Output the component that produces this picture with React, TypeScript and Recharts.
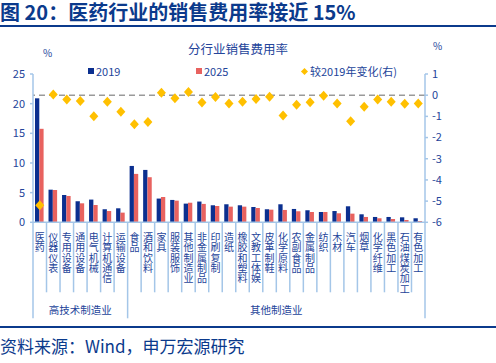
import { Bar, ComposedChart, Line, ReferenceLine, XAxis, YAxis } from 'recharts';

const categories = [
	'医药', '仪器仪表', '专用设备', '通用设备', '电气机械', '计算机通信', '运输设备',
	'食品', '酒和饮料', '家具', '服装服饰', '其他制造业', '非金属制品', '印刷复制', '造纸',
	'橡胶和塑料', '文教工体娱', '皮革制鞋', '化学原料', '农副食品', '金属制品', '纺织', '木材',
	'汽车', '烟草', '化学纤维', '黑色加工', '石油煤炭加工', '有色加工',
];
const sales2019 = [
	20.9, 5.5, 4.6, 3.55, 3.83, 2.2, 2.36, 9.5, 8.83, 4.0, 3.77, 3.15, 3.5, 2.87, 3.04,
	2.87, 2.58, 2.2, 3.04, 2.25, 2.03, 1.74, 1.9, 2.7, 1.35, 0.9, 0.9, 0.84, 0.68,
];
const sales2025 = [
	15.76, 5.45, 4.44, 3.2, 2.92, 1.9, 1.63, 8.16, 7.6, 4.27, 3.65, 3.3, 3.1, 2.75, 2.64,
	2.64, 2.41, 2.13, 2.08, 1.86, 1.74, 1.74, 1.52, 1.46, 0.9, 0.68, 0.56, 0.39, 0.22,
];
const change = [
	-5.2, 0.03, -0.2, -0.28, -0.99, -0.31, -0.78, -1.37, -1.26, 0.11, -0.15, 0.15, -0.34, -0.09, -0.39,
	-0.31, -0.18, -0.07, -0.96, -0.45, -0.33, -0.03, -0.39, -1.23, -0.55, -0.2, -0.31, -0.41, -0.39,
];
const groups = [
	{ name: '高技术制造业', count: 7 },
	{ name: '其他制造业', count: 22 },
];
const leftTicks = [0, 5, 10, 15, 20, 25];
const rightTicks = [-6, -5, -4, -3, -2, -1, 0, 1];

const data = categories.map((name, i) => ({
	name,
	v2019: sales2019[i],
	v2025: sales2025[i],
	change: change[i],
}));

const NAVY = '#0b3a8c';
const TEXT = '#24449a';
const BLUE = '#0b2f8f';
const RED = '#e8625f';
const GOLD = '#ffc000';
const AXIS = '#a4c6e8';
const FONT = '"Noto Sans CJK SC", "Noto Sans", sans-serif';

const plotLeft = 33;
const plotRight = 425;
const band = (plotRight - plotLeft) / categories.length;

const groupStarts: number[] = [];
groups.reduce((acc, g) => {
	groupStarts.push(acc);
	return acc + g.count;
}, 0);

function CategoryTick({ x, y, payload, index }: any) {
	const chars = Array.from(String(payload.value));
	const isStart = groupStarts.includes(index);
	const isLast = index === categories.length - 1;
	const left = x - band / 2;
	const labels: any[] = [];
	groups.forEach((g, gi) => {
		const center = groupStarts[gi] + g.count / 2 - 0.5;
		if (Math.floor(center) === index) {
			labels.push(
				<text
					key={g.name}
					x={x + (center - index) * band}
					y={y + 92}
					textAnchor="middle"
					fontSize={10.5}
					fill={TEXT}
					fontFamily={FONT}
				>
					{g.name}
				</text>
			);
		}
	});
	return (
		<g>
			<line x1={left} x2={left} y1={y} y2={y + (isStart ? 96 : 70)} stroke={AXIS} strokeWidth={1.5} />
			{isLast && <line x1={x + band / 2} x2={x + band / 2} y1={y} y2={y + 96} stroke={AXIS} strokeWidth={1.5} />}
			{chars.map((c, k) => (
				<text
					key={k}
					x={x}
					y={y + 18.5 + k * 10.4}
					textAnchor="middle"
					fontSize={10}
					fill={TEXT}
					fontFamily={FONT}
				>
					{c}
				</text>
			))}
			{labels}
		</g>
	);
}

function Diamond({ cx, cy }: any) {
	if (cx == null || cy == null) return null;
	return <polygon points={`${cx},${cy - 5} ${cx + 4.5},${cy} ${cx},${cy + 5} ${cx - 4.5},${cy}`} fill={GOLD} />;
}

export default function App() {
	return (
		<div style={{ position: 'absolute', left: 0, top: 0, width: 496, height: 363, background: '#fff', fontFamily: FONT }}>
			<div style={{ position: 'absolute', left: 0, top: 1, fontSize: 20, fontWeight: 700, color: NAVY, lineHeight: '22px', whiteSpace: 'nowrap' }}>
				图 20：医药行业的销售费用率接近 15%
			</div>
			<div style={{ position: 'absolute', left: 0, top: 25, width: 496, height: 2, background: NAVY }} />
			<div style={{ position: 'absolute', left: 0, top: 41, width: 476, textAlign: 'center', fontSize: 12.5, color: TEXT, lineHeight: '16px' }}>
				分行业销售费用率
			</div>
			<div style={{ position: 'absolute', left: 43, top: 45, fontSize: 10, color: TEXT }}>%</div>
			<div style={{ position: 'absolute', left: 433, top: 38, fontSize: 10, color: TEXT }}>%</div>
			<div style={{ position: 'absolute', left: 88, top: 64, fontSize: 11, color: TEXT, display: 'flex', alignItems: 'center', lineHeight: '14px' }}>
				<span style={{ display: 'inline-block', width: 6, height: 6, background: BLUE, marginRight: 2 }} />2019
			</div>
			<div style={{ position: 'absolute', left: 196, top: 64, fontSize: 11, color: TEXT, display: 'flex', alignItems: 'center', lineHeight: '14px' }}>
				<span style={{ display: 'inline-block', width: 6, height: 6, background: RED, marginRight: 2 }} />2025
			</div>
			<div style={{ position: 'absolute', left: 302, top: 64, fontSize: 11, color: TEXT, display: 'flex', alignItems: 'center', lineHeight: '14px' }}>
				<span style={{ display: 'inline-block', width: 5, height: 5, background: GOLD, transform: 'rotate(45deg)', marginRight: 3 }} />较2019年变化(右)
			</div>
			<div style={{ position: 'absolute', left: 0, top: 0 }}>
				<ComposedChart
					width={496}
					height={363}
					data={data}
					margin={{ top: 74, right: 0, left: 0, bottom: 40.7 }}
					barGap={0}
				>
					<XAxis
						dataKey="name"
						height={100}
						interval={0}
						tickLine={false}
						tickSize={0}
						tickMargin={0}
						stroke={AXIS}
						strokeWidth={1.5}
						tick={<CategoryTick />}
					/>
					<YAxis
						yAxisId="left"
						width={33}
						domain={[0, 25]}
						ticks={leftTicks}
						tickSize={3}
						tickMargin={5}
						stroke={AXIS}
						strokeWidth={1.5}
						tick={{ fill: TEXT, fontSize: 11, fontFamily: FONT }}
					/>
					<YAxis
						yAxisId="right"
						orientation="right"
						width={71}
						domain={[-6, 1]}
						ticks={rightTicks}
						tickSize={3}
						tickMargin={4}
						stroke={AXIS}
						strokeWidth={1.5}
						tick={{ fill: TEXT, fontSize: 11, fontFamily: FONT, textAnchor: 'start' }}
					/>
					<ReferenceLine yAxisId="right" y={0} stroke="#9a9a9a" strokeWidth={1.5} strokeDasharray="6 4" />
					<Bar yAxisId="left" dataKey="v2019" fill={BLUE} barSize={4.3} isAnimationActive={false} />
					<Bar yAxisId="left" dataKey="v2025" fill={RED} barSize={4.3} isAnimationActive={false} />
					<Line
						yAxisId="right"
						dataKey="change"
						stroke="none"
						dot={<Diamond />}
						activeDot={false}
						isAnimationActive={false}
					/>
				</ComposedChart>
			</div>
			<div style={{ position: 'absolute', left: 0, top: 326, width: 496, height: 2, background: NAVY }} />
			<div style={{ position: 'absolute', left: 0, top: 335, fontSize: 17, color: NAVY, lineHeight: '22px', whiteSpace: 'nowrap' }}>
				资料来源：Wind，申万宏源研究
			</div>
		</div>
	);
}
